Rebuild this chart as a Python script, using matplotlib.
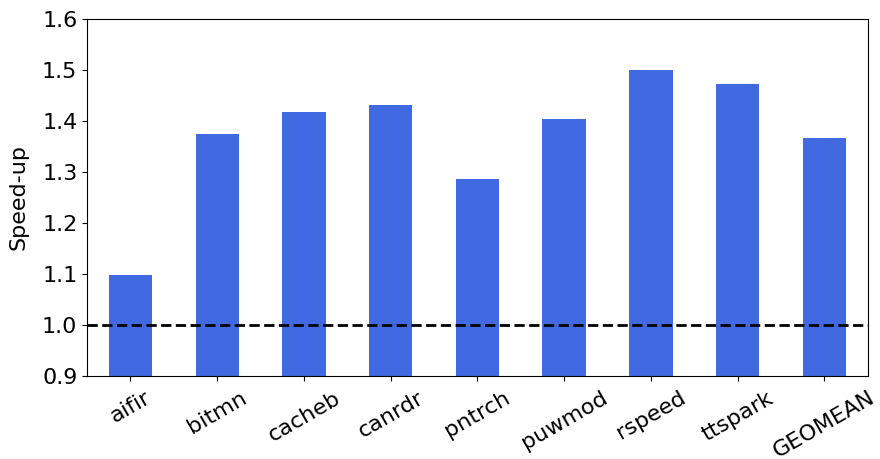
import matplotlib
matplotlib.use("Agg")
import matplotlib.pyplot as plt
import numpy as np

benchmarks = ['aifir', 'bitmn', 'cacheb', 'canrdr', 'pntrch', 'puwmod', 'rspeed', 'ttspark', 'GEOMEAN']
speedup = [1.097, 1.374, 1.417, 1.431, 1.286, 1.403, 1.499, 1.472, 1.366]

plt.rcParams['font.size'] = 16

fig, ax = plt.subplots(figsize=(8.8, 4.59), dpi=100)
x = np.arange(len(benchmarks))
ax.bar(x, speedup, width=0.5, color='royalblue')
ax.axhline(1.0, color='black', linestyle='--', linewidth=2)

ax.set_xlim(-0.5, len(benchmarks) - 0.5)
ax.set_ylim(0.9, 1.6)
ax.set_xticks(x)
ax.set_xticklabels(benchmarks, rotation=30)
ax.tick_params(axis='x', pad=5)
ax.set_ylabel('Speed-up', labelpad=10)

fig.subplots_adjust(left=0.099, right=0.986, top=0.959, bottom=0.181)
plt.savefig('out.png')
